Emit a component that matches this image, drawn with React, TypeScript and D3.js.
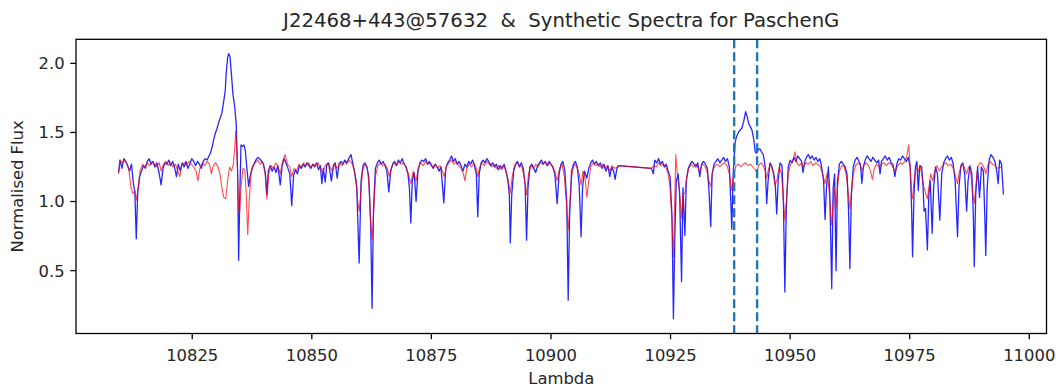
import React from "react";
import * as d3 from "d3";

const TITLE = "J22468+443@57632  &  Synthetic Spectra for PaschenG";
const X_LABEL = "Lambda";
const Y_LABEL = "Normalised Flux";
const X_TICKS = [10825, 10850, 10875, 10900, 10925, 10950, 10975, 11000];
const Y_TICKS = [0.5, 1.0, 1.5, 2.0];
const MARKERS = [10938.3, 10943.1];

// Observed spectrum [lambda, flux]
const observed: [number, number][] = [
  [10809.6,1.21],[10809.9,1.30],[10810.3,1.24],[10810.7,1.31],[10811.1,1.29],[10811.5,1.26],[10811.9,1.22],[10812.3,1.27],[10812.7,1.13],[10813.0,1.07],[10813.3,0.73],[10813.6,1.06],[10814.0,1.18],[10814.4,1.22],[10814.8,1.26],[10815.2,1.24],[10815.6,1.29],[10816.0,1.31],[10816.4,1.27],[10816.8,1.29],[10817.2,1.25],[10817.6,1.28],[10818.0,1.22],[10818.5,1.12],[10818.9,1.24],[10819.3,1.28],[10819.7,1.27],[10820.1,1.30],[10820.5,1.26],[10820.9,1.29],[10821.3,1.25],[10821.7,1.18],[10822.1,1.27],[10822.5,1.22],[10822.9,1.28],[10823.3,1.25],[10823.7,1.29],[10824.1,1.24],[10824.5,1.27],[10824.9,1.31],[10825.3,1.29],[10825.7,1.26],[10826.1,1.29],[10826.5,1.27],[10826.9,1.24],[10827.3,1.29],[10827.7,1.31],[10828.1,1.30],
  [10828.5,1.33],[10828.8,1.35],[10829.2,1.40],[10829.5,1.45],[10829.8,1.49],[10830.2,1.53],[10830.6,1.58],[10830.9,1.61],[10831.2,1.64],[10831.6,1.73],[10831.9,1.80],[10832.1,1.93],[10832.4,2.04],[10832.6,2.07],[10832.9,2.05],[10833.2,1.92],[10833.5,1.78],[10833.9,1.68],[10834.2,1.56],[10834.5,1.20],[10834.7,0.575],[10834.95,1.05],[10835.2,1.41],[10835.5,1.40],[10835.8,1.41],[10836.1,1.37],[10836.4,1.25],[10836.8,1.11],[10837.1,1.18],[10837.5,1.24],[10837.9,1.27],[10838.3,1.30],[10838.7,1.32],[10839.1,1.31],[10839.5,1.29],[10839.9,1.27],[10840.3,1.20],[10840.6,1.05],[10840.9,1.22],[10841.3,1.26],[10841.7,1.22],[10842.1,1.25],[10842.5,1.21],[10842.9,1.26],[10843.4,1.12],[10843.8,1.26],[10844.2,1.31],[10844.6,1.28],[10845.0,1.24],[10845.4,1.20],[10845.8,0.97],[10846.2,1.19],[10846.6,1.23],[10847.0,1.20],[10847.4,1.26],[10847.8,1.24],[10848.2,1.27],[10848.6,1.25],[10849.0,1.28],[10849.4,1.26],[10849.8,1.24],[10850.2,1.27],[10850.6,1.25],[10851.0,1.28],[10851.4,1.23],[10851.8,1.26],[10852.1,1.13],[10852.4,1.24],[10852.8,1.14],[10853.1,1.26],[10853.5,1.28],[10854.1,1.15],[10854.5,1.26],[10854.9,1.28],[10855.3,1.17],[10855.7,1.27],[10856.1,1.29],[10856.5,1.27],[10856.9,1.30],[10857.3,1.28],[10857.7,1.31],[10858.2,1.34],[10858.6,1.27],[10859.0,1.20],[10859.4,1.10],[10859.9,0.555],[10860.3,1.15],[10860.7,1.26],[10861.1,1.28],[10861.5,1.25],[10861.9,1.18],[10862.3,0.85],[10862.6,0.227],[10862.9,0.95],[10863.3,1.24],[10863.7,1.28],[10864.1,1.30],[10864.5,1.27],[10864.9,1.29],[10865.3,1.26],[10865.7,1.22],[10866.1,1.07],[10866.5,1.22],[10866.9,1.27],[10867.3,1.29],[10867.7,1.26],[10868.1,1.30],[10868.5,1.28],[10868.9,1.31],[10869.3,1.27],[10869.7,1.25],[10870.1,1.20],[10870.4,1.10],[10870.7,0.845],[10871.0,1.15],[10871.4,1.21],[10871.8,1.00],[10872.2,1.22],[10872.6,1.28],[10873.0,1.30],[10873.4,1.29],[10873.8,1.31],[10874.2,1.27],[10874.6,1.29],[10875.0,1.26],[10875.4,1.24],[10875.8,1.27],[10876.2,1.25],[10876.6,1.22],[10877.0,1.25],[10877.6,0.99],[10878.0,1.24],[10878.4,1.28],[10878.8,1.30],[10879.2,1.33],[10879.6,1.29],[10880.0,1.31],[10880.4,1.27],[10880.8,1.29],[10881.2,1.26],[10881.6,1.22],[10882.0,1.27],[10882.4,1.25],[10882.8,1.29],[10883.2,1.27],[10883.6,1.30],[10884.0,1.26],[10884.4,1.20],[10884.7,0.89],[10885.0,1.20],[10885.4,1.28],[10885.8,1.30],[10886.2,1.28],[10886.6,1.31],[10887.0,1.29],[10887.4,1.26],[10887.8,1.28],[10888.2,1.25],[10888.6,1.27],[10889.0,1.23],[10889.4,1.26],[10889.8,1.24],[10890.2,1.27],[10890.6,1.22],[10891.0,1.15],[10891.3,1.05],[10891.5,0.70],[10891.8,1.05],[10892.2,1.22],[10892.6,1.27],[10893.0,1.29],[10893.4,1.25],[10893.8,1.28],[10894.2,1.24],[10894.6,1.12],[10894.9,0.72],[10895.2,1.10],[10895.6,1.25],[10896.0,1.27],[10896.4,1.24],[10896.8,1.21],[10897.2,1.26],[10897.6,1.28],[10898.0,1.30],[10898.4,1.27],[10898.8,1.29],[10899.2,1.26],[10899.6,1.29],[10900.0,1.27],[10900.4,1.25],[10900.8,1.20],[10901.3,0.985],[10901.7,1.20],[10902.1,1.27],[10902.5,1.29],[10902.9,1.22],[10903.3,1.00],[10903.6,0.285],[10903.9,0.90],[10904.3,1.22],[10904.7,1.27],[10905.1,1.29],[10905.5,1.25],[10905.9,1.12],[10906.3,0.745],[10906.6,1.10],[10907.0,1.22],[10907.5,1.17],[10907.9,1.24],[10908.3,1.28],[10908.7,1.30],[10909.1,1.27],[10909.5,1.29],[10909.9,1.26],[10910.3,1.28],[10910.7,1.24],[10911.1,1.27],[10911.5,1.22],[10911.9,1.26],[10912.3,1.18],[10912.7,1.25],[10913.1,1.22],[10913.4,1.16],[10913.8,1.24],[10914.1,1.26],
  [10921.0,1.24],[10921.4,1.20],[10921.7,1.30],[10922.1,1.28],[10922.5,1.31],[10922.9,1.27],[10923.3,1.29],[10923.7,1.25],[10924.1,1.27],[10924.5,1.22],[10924.9,1.18],[10925.3,0.90],[10925.6,0.152],[10925.9,0.75],[10926.2,1.15],[10926.6,1.20],[10926.9,1.05],[10927.3,0.42],[10927.6,1.10],[10928.0,0.755],[10928.3,1.15],[10928.7,1.24],[10929.1,1.27],[10929.5,1.29],[10929.9,1.27],[10930.3,1.25],[10930.7,1.28],[10931.1,1.18],[10931.5,1.27],[10931.9,1.29],[10932.3,1.27],[10932.7,1.24],[10933.0,1.10],[10933.4,0.82],[10933.7,1.20],[10934.1,1.27],[10934.5,1.29],[10934.9,1.31],[10935.3,1.28],[10935.7,1.30],[10936.1,1.32],[10936.5,1.29],[10936.9,1.31],[10937.3,1.25],[10937.6,1.00],[10937.8,0.80],[10938.1,1.20],[10938.5,1.43],[10938.8,1.47],[10939.2,1.50],[10939.6,1.52],[10939.9,1.53],[10940.3,1.58],[10940.7,1.65],[10941.0,1.62],[10941.3,1.57],[10941.7,1.54],[10942.0,1.52],[10942.4,1.45],[10942.7,1.36],[10943.0,1.35],[10943.4,1.38],[10943.7,1.38],[10944.0,1.36],[10944.4,1.34],[10944.8,1.25],[10945.1,0.985],[10945.4,1.15],[10945.8,1.28],[10946.2,1.25],[10946.6,1.20],[10946.9,1.12],[10947.2,0.91],[10947.5,1.15],[10947.9,1.28],[10948.3,1.26],[10948.6,1.00],[10948.9,0.345],[10949.2,0.95],[10949.6,1.25],[10950.0,1.30],[10950.4,1.28],[10950.8,1.32],[10951.2,1.29],[10951.6,1.33],[10952.0,1.31],[10952.4,1.29],[10952.7,1.21],[10953.0,1.28],[10953.4,1.32],[10953.8,1.34],[10954.2,1.31],[10954.6,1.33],[10955.0,1.30],[10955.4,1.32],[10955.8,1.29],[10956.2,1.31],[10956.6,1.25],[10957.0,1.15],[10957.3,0.87],[10957.6,1.10],[10958.0,1.25],[10958.3,1.05],[10958.7,0.37],[10959.0,1.10],[10959.3,1.20],[10959.6,0.50],[10959.9,1.15],[10960.3,1.27],[10960.7,1.29],[10961.1,1.27],[10961.5,1.25],[10961.9,1.20],[10962.2,0.95],[10962.5,0.515],[10962.8,1.05],[10963.2,1.25],[10963.6,1.30],[10964.0,1.32],[10964.4,1.29],[10964.7,1.27],[10965.0,1.13],[10965.3,1.25],[10965.7,1.30],[10966.1,1.33],[10966.5,1.31],[10966.9,1.29],[10967.3,1.32],[10967.7,1.30],[10968.1,1.28],[10968.5,1.30],[10968.8,1.20],[10969.1,1.29],[10969.5,1.31],[10969.9,1.33],[10970.3,1.30],[10970.7,1.32],[10971.1,1.28],[10971.5,1.27],[10971.9,1.18],[10972.3,1.27],[10972.7,1.31],[10973.1,1.30],[10973.5,1.33],[10973.9,1.31],[10974.3,1.29],[10974.7,1.32],[10975.1,1.25],[10975.4,0.95],[10975.6,0.60],[10975.9,1.05],[10976.2,1.25],[10976.5,1.29],[10976.8,1.08],[10977.1,1.26],[10977.5,1.25],[10977.8,1.10],[10978.0,0.93],[10978.3,0.95],[10978.7,0.65],[10979.0,1.05],[10979.3,1.15],[10979.7,0.77],[10980.0,1.10],[10980.4,1.25],[10980.8,1.20],[10981.3,0.865],[10981.7,1.20],[10982.1,1.28],[10982.5,1.31],[10982.9,1.33],[10983.3,1.30],[10983.7,1.32],[10984.1,1.27],[10984.5,1.15],[10985.0,0.745],[10985.3,1.10],[10985.7,1.26],[10986.1,1.28],[10986.5,1.20],[10986.9,0.93],[10987.2,1.15],[10987.6,1.26],[10988.0,1.20],[10988.3,0.90],[10988.5,0.53],[10988.8,1.05],[10989.2,1.25],[10989.6,1.03],[10990.0,1.25],[10990.4,1.22],[10990.7,0.90],[10990.9,0.61],[10991.2,1.10],[10991.6,1.30],[10992.0,1.34],[10992.4,1.32],[10992.8,1.29],[10993.2,1.22],[10993.5,1.13],[10993.8,1.30],[10994.2,1.27],[10994.6,1.05]
];

// Synthetic spectrum [lambda, flux]
const synthetic: [number, number][] = [
  [10809.6,1.20],[10809.9,1.30],[10810.4,1.28],[10810.9,1.30],[10811.4,1.27],[10811.8,1.22],[10812.2,1.10],[10812.6,1.06],[10813.0,1.08],[10813.3,1.01],[10813.7,1.10],[10814.1,1.22],[10814.6,1.27],[10815.1,1.25],[10815.6,1.28],[10816.1,1.26],[10816.6,1.29],[10817.1,1.27],[10817.6,1.25],[10818.1,1.28],[10818.5,1.22],[10819.0,1.27],[10819.5,1.29],[10820.0,1.26],[10820.5,1.28],[10821.0,1.25],[10821.5,1.27],[10822.0,1.22],[10822.4,1.18],[10822.8,1.26],[10823.3,1.28],[10823.8,1.26],[10824.3,1.29],[10824.8,1.27],[10825.3,1.25],[10825.8,1.22],[10826.2,1.15],[10826.6,1.24],[10827.1,1.28],[10827.6,1.26],[10828.1,1.29],[10828.6,1.27],[10829.0,1.20],[10829.4,1.26],[10829.9,1.28],[10830.4,1.25],[10830.8,1.20],[10831.2,1.10],[10831.6,1.03],[10832.0,1.02],[10832.4,1.15],[10832.8,1.25],[10833.2,1.22],[10833.6,1.27],[10833.9,1.40],[10834.1,1.51],[10834.4,1.30],[10834.7,0.95],[10834.9,0.915],[10835.2,1.10],[10835.6,1.24],[10836.0,1.23],[10836.3,1.05],[10836.6,0.76],[10836.9,1.00],[10837.3,1.20],[10837.7,1.26],[10838.2,1.28],[10838.7,1.30],[10839.2,1.27],[10839.7,1.29],[10840.2,1.22],[10840.6,1.02],[10841.0,1.20],[10841.5,1.26],[10842.0,1.24],[10842.5,1.28],[10843.0,1.25],[10843.4,1.20],[10843.9,1.29],[10844.4,1.34],[10844.9,1.27],[10845.4,1.25],[10845.8,1.18],[10846.3,1.24],[10846.8,1.22],[10847.3,1.27],[10847.8,1.25],[10848.3,1.28],[10848.8,1.26],[10849.3,1.28],[10849.8,1.25],[10850.3,1.27],[10850.8,1.26],[10851.3,1.28],[10851.8,1.24],[10852.3,1.21],[10852.8,1.26],[10853.3,1.28],[10853.8,1.25],[10854.3,1.22],[10854.8,1.27],[10855.3,1.24],[10855.8,1.28],[10856.3,1.26],[10856.8,1.29],[10857.3,1.27],[10857.8,1.30],[10858.3,1.28],[10858.8,1.24],[10859.3,1.15],[10859.6,1.00],[10859.9,0.93],[10860.2,1.05],[10860.6,1.22],[10861.1,1.27],[10861.6,1.25],[10862.0,1.10],[10862.3,0.85],[10862.6,0.72],[10862.9,0.90],[10863.3,1.18],[10863.8,1.26],[10864.3,1.28],[10864.8,1.26],[10865.3,1.27],[10865.8,1.24],[10866.2,1.18],[10866.7,1.25],[10867.2,1.28],[10867.7,1.26],[10868.2,1.29],[10868.7,1.27],[10869.2,1.28],[10869.7,1.25],[10870.2,1.20],[10870.7,1.13],[10871.2,1.22],[10871.8,1.15],[10872.3,1.25],[10872.8,1.28],[10873.3,1.26],[10873.8,1.29],[10874.3,1.27],[10874.8,1.28],[10875.3,1.25],[10875.8,1.27],[10876.3,1.24],[10876.8,1.26],[10877.3,1.22],[10877.7,1.18],[10878.2,1.26],[10878.7,1.28],[10879.2,1.30],[10879.7,1.27],[10880.2,1.29],[10880.7,1.26],[10881.2,1.24],[10881.7,1.20],[10882.0,1.15],[10882.4,1.24],[10882.9,1.27],[10883.4,1.25],[10883.9,1.28],[10884.4,1.24],[10884.7,1.18],[10885.1,1.25],[10885.6,1.28],[10886.1,1.26],[10886.6,1.29],[10887.1,1.27],[10887.6,1.25],[10888.1,1.27],[10888.6,1.24],[10889.1,1.26],[10889.6,1.23],[10890.1,1.26],[10890.6,1.22],[10891.1,1.15],[10891.5,1.06],[10891.9,1.18],[10892.4,1.26],[10892.9,1.28],[10893.4,1.26],[10893.9,1.25],[10894.4,1.18],[10894.9,1.05],[10895.3,1.20],[10895.8,1.26],[10896.3,1.24],[10896.8,1.27],[10897.3,1.25],[10897.8,1.28],[10898.3,1.27],[10898.8,1.29],[10899.3,1.26],[10899.8,1.28],[10900.3,1.25],[10900.8,1.22],[10901.3,1.15],[10901.8,1.24],[10902.3,1.27],[10902.8,1.18],[10903.2,1.00],[10903.6,0.79],[10904.0,1.00],[10904.4,1.20],[10904.9,1.27],[10905.4,1.25],[10905.9,1.20],[10906.3,1.12],[10906.7,1.22],[10907.1,1.18],[10907.5,1.03],[10907.9,1.15],[10908.3,1.25],[10908.8,1.28],[10909.3,1.26],[10909.8,1.27],[10910.3,1.25],[10910.8,1.27],[10911.3,1.24],[10911.8,1.26],[10912.3,1.22],[10912.8,1.26],[10913.3,1.24],[10913.8,1.25],[10914.1,1.26],
  [10921.0,1.24],[10921.5,1.26],[10922.0,1.25],[10922.5,1.28],[10923.0,1.26],[10923.5,1.27],[10924.0,1.25],[10924.5,1.20],[10924.9,1.10],[10925.3,0.85],[10925.6,0.60],[10925.8,0.90],[10926.1,1.34],[10926.4,1.20],[10926.8,1.10],[10927.3,0.88],[10927.6,1.05],[10928.0,1.06],[10928.4,1.18],[10928.8,1.24],[10929.3,1.27],[10929.8,1.25],[10930.3,1.27],[10930.8,1.24],[10931.1,1.22],[10931.6,1.27],[10932.1,1.26],[10932.6,1.22],[10933.0,1.15],[10933.4,1.11],[10933.8,1.22],[10934.3,1.26],[10934.8,1.27],[10935.3,1.25],[10935.8,1.27],[10936.3,1.28],[10936.8,1.26],[10937.3,1.20],[10937.8,1.08],[10938.2,1.20],[10938.7,1.26],[10939.2,1.27],[10939.7,1.25],[10940.2,1.27],[10940.7,1.28],[10941.2,1.26],[10941.7,1.27],[10942.2,1.25],[10942.7,1.23],[10943.0,1.21],[10943.4,1.26],[10943.9,1.28],[10944.4,1.26],[10944.8,1.22],[10945.1,1.17],[10945.5,1.24],[10945.9,1.27],[10946.4,1.22],[10946.8,1.12],[10947.2,1.15],[10947.7,1.25],[10948.2,1.20],[10948.6,1.00],[10948.9,0.865],[10949.2,1.00],[10949.6,1.20],[10950.1,1.27],[10950.6,1.30],[10951.0,1.36],[10951.4,1.28],[10951.9,1.26],[10952.4,1.28],[10952.8,1.25],[10953.3,1.28],[10953.8,1.27],[10954.3,1.29],[10954.8,1.26],[10955.3,1.28],[10955.8,1.27],[10956.3,1.25],[10956.8,1.20],[10957.3,1.13],[10957.7,1.20],[10958.1,1.10],[10958.5,0.90],[10958.7,0.83],[10959.0,1.00],[10959.3,1.10],[10959.6,0.95],[10959.9,1.10],[10960.3,1.22],[10960.8,1.26],[10961.3,1.25],[10961.8,1.18],[10962.2,1.05],[10962.5,0.95],[10962.8,1.05],[10963.2,1.20],[10963.7,1.26],[10964.2,1.28],[10964.7,1.26],[10965.0,1.22],[10965.4,1.26],[10965.9,1.28],[10966.4,1.26],[10966.8,1.22],[10967.2,1.16],[10967.6,1.24],[10968.1,1.27],[10968.6,1.25],[10969.1,1.27],[10969.6,1.28],[10970.1,1.26],[10970.6,1.28],[10971.1,1.27],[10971.6,1.24],[10972.0,1.22],[10972.5,1.26],[10973.0,1.28],[10973.5,1.27],[10974.0,1.29],[10974.4,1.33],[10974.8,1.41],[10975.1,1.25],[10975.4,1.05],[10975.6,1.02],[10975.9,1.15],[10976.3,1.25],[10976.8,1.22],[10977.2,1.26],[10977.6,1.18],[10978.0,1.10],[10978.4,1.05],[10978.7,1.02],[10979.0,1.10],[10979.4,1.20],[10979.8,1.15],[10980.2,1.22],[10980.7,1.26],[10981.2,1.22],[10981.6,1.25],[10982.1,1.27],[10982.6,1.28],[10983.1,1.26],[10983.6,1.27],[10984.1,1.24],[10984.6,1.18],[10985.0,1.13],[10985.4,1.22],[10985.9,1.27],[10986.4,1.25],[10986.9,1.20],[10987.3,1.25],[10987.8,1.20],[10988.2,1.05],[10988.5,0.985],[10988.8,1.10],[10989.2,1.25],[10989.7,1.28],[10990.2,1.27],[10990.6,1.24],[10990.9,1.20],[10991.3,1.26],[10991.8,1.29],[10992.3,1.27],[10992.8,1.26],[10993.3,1.24],[10993.8,1.25],[10994.3,1.24]
];

const W = 1056;
const H = 388;
const M = { left: 76, right: 1046.5, top: 39.3, bottom: 333.5 };
const FONT = "'DejaVu Sans', sans-serif";
const TXT = "#262626";

export default function App() {
  const x = d3.scaleLinear().domain([10800.7, 11003.6]).range([M.left, M.right]);
  const y = d3.scaleLinear().domain([0.045, 2.174]).range([M.bottom, M.top]);
  const line = d3
    .line<[number, number]>()
    .x((d) => x(d[0]))
    .y((d) => y(d[1]));
  const tickLen = 5.7;
  const pad = 5.7;
  return (
    <svg
      width={W}
      height={H}
      style={{ position: "absolute", left: 0, top: 0, background: "#fff" }}
      fontFamily={FONT}
    >
      <rect x={0} y={0} width={W} height={H} fill="#fff" />
      <defs>
        <clipPath id="plot">
          <rect x={M.left} y={M.top} width={M.right - M.left} height={M.bottom - M.top} />
        </clipPath>
      </defs>
      <g clipPath="url(#plot)">
        <path d={line(observed) || ""} fill="none" stroke="blue" strokeWidth={1.3} strokeOpacity={0.85} strokeLinejoin="round" />
        <path d={line(synthetic) || ""} fill="none" stroke="red" strokeWidth={1.1} strokeOpacity={0.7} strokeLinejoin="round" />
        {MARKERS.map((m) => (
          <line
            key={m}
            x1={x(m)}
            x2={x(m)}
            y1={M.top}
            y2={M.bottom}
            stroke="#1f77b4"
            strokeWidth={2.4}
            strokeDasharray="9,4"
          />
        ))}
      </g>
      <rect
        x={M.left}
        y={M.top}
        width={M.right - M.left}
        height={M.bottom - M.top}
        fill="none"
        stroke="#000"
        strokeWidth={1.3}
      />
      {X_TICKS.map((t) => (
        <g key={t}>
          <line x1={x(t)} x2={x(t)} y1={M.bottom} y2={M.bottom + tickLen} stroke="#000" strokeWidth={1.3} />
          <text x={x(t)} y={M.bottom + tickLen + pad + 16.5} textAnchor="middle" fontSize={16.4} fill={TXT}>
            {t}
          </text>
        </g>
      ))}
      {Y_TICKS.map((t) => (
        <g key={t}>
          <line x1={M.left - tickLen} x2={M.left} y1={y(t)} y2={y(t)} stroke="#000" strokeWidth={1.3} />
          <text x={M.left - tickLen - pad} y={y(t)} dy="0.36em" textAnchor="end" fontSize={16.4} fill={TXT}>
            {t.toFixed(1)}
          </text>
        </g>
      ))}
      <text
        x={(M.left + M.right) / 2}
        y={26.5}
        textAnchor="middle"
        fontSize={19.7}
        fill={TXT}
        style={{ whiteSpace: "pre" }}
        xmlSpace="preserve"
      >
        {TITLE}
      </text>
      <text x={(M.left + M.right) / 2} y={384} textAnchor="middle" fontSize={16.4} fill={TXT}>
        {X_LABEL}
      </text>
      <text
        transform={`translate(23, ${(M.top + M.bottom) / 2}) rotate(-90)`}
        textAnchor="middle"
        fontSize={16.4}
        fill={TXT}
      >
        {Y_LABEL}
      </text>
    </svg>
  );
}
